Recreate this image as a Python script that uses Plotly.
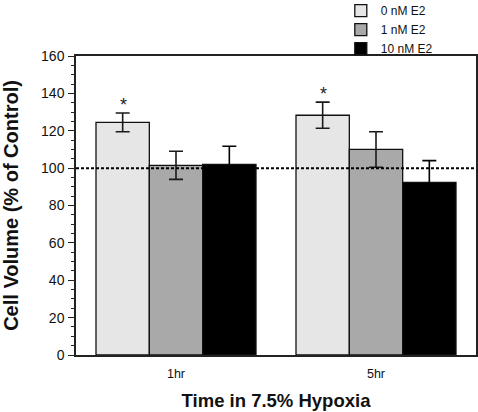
import plotly.graph_objects as go

categories = ["1hr", "5hr"]
series_names = ["0 nM E2", "1 nM E2", "10 nM E2"]
values_0nM = [124.5, 128.3]
errors_0nM = [5.0, 7.0]
values_1nM = [101.5, 110.0]
errors_1nM = [7.5, 9.5]
values_10nM = [102.0, 92.4]
errors_10nM = [9.7, 11.6]
significant_0nM = [True, True]
control_level = 100
y_ticks = [0, 20, 40, 60, 80, 100, 120, 140, 160]

colors = ["#e6e6e6", "#a9a9a9", "#000000"]
err_colors = ["#1a1a1a", "#1a1a1a", "#000000"]
FONT = "Arial, Liberation Sans, sans-serif"

fig = go.Figure()
for name, vals, errs, col, ecol in zip(series_names,
                                       [values_0nM, values_1nM, values_10nM],
                                       [errors_0nM, errors_1nM, errors_10nM],
                                       colors, err_colors):
    fig.add_trace(go.Bar(
        x=categories, y=vals, name=name,
        marker=dict(color=col, line=dict(color="#111111", width=1.3)),
        error_y=dict(type="data", array=errs, visible=True,
                     color=ecol, thickness=1.6, width=7),
    ))

# asterisks over significant bars (0 nM E2 bars, first in each group)
for cat, v, e, sig in zip(categories, values_0nM, errors_0nM, significant_0nM):
    if sig:
        fig.add_annotation(x=cat, y=v + e, text="*", showarrow=False,
                           xref="x", yref="y", xanchor="center", yanchor="bottom",
                           xshift=-53, yshift=-4,
                           font=dict(family=FONT, size=18, color="#222222"))

fig.add_shape(type="line", xref="paper", yref="y", x0=0, x1=1,
              y0=control_level, y1=control_level,
              line=dict(color="#000000", width=2, dash="3px,2px"), layer="above")

fig.update_layout(
    width=478, height=412,
    margin=dict(l=76, r=2, t=56, b=57, autoexpand=False),
    paper_bgcolor="white", plot_bgcolor="white",
    barmode="group", bargap=0.2, bargroupgap=0,
    font=dict(family=FONT, size=13, color="#111111"),
    showlegend=True,
    legend=dict(x=0.662, y=1.2, xanchor="left", yanchor="top",
                bgcolor="rgba(0,0,0,0)", font=dict(family=FONT, size=12, color="#111111"),
                tracegroupgap=0),
    xaxis=dict(showline=True, linecolor="#222222", linewidth=1.5, mirror=True,
               ticks="", showgrid=False, zeroline=False, automargin=False,
               tickfont=dict(family=FONT, size=12.5), ticklabelstandoff=6,
               title=dict(text="<b>Time in 7.5% Hypoxia</b>",
                          font=dict(family=FONT, size=18.5), standoff=14)),
    yaxis=dict(range=[0, 160], tickvals=y_ticks, showline=True, linecolor="#222222",
               linewidth=1.5, mirror=True, ticks="outside", ticklen=6, tickwidth=1.2,
               tickcolor="#222222", showgrid=False, zeroline=False, automargin=False,
               minor=dict(dtick=5, ticks="outside", ticklen=3, tickwidth=1.2,
                          tickcolor="#222222", showgrid=False),
               tickfont=dict(family=FONT, size=14), ticklabelstandoff=1,
               title=dict(text="<b>Cell Volume (% of Control)</b>",
                          font=dict(family=FONT, size=20), standoff=28)),
)

fig.write_html("out.html", config={"displayModeBar": False},
               post_script="document.body.style.margin='0px';")
